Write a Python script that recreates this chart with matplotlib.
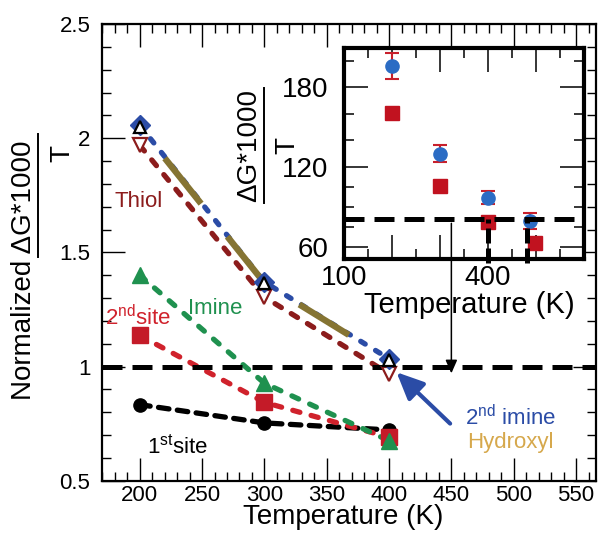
import matplotlib
matplotlib.use("Agg")
import matplotlib.pyplot as plt
from matplotlib.lines import Line2D
from matplotlib.ticker import MultipleLocator, FixedLocator

plt.rcParams['font.family'] = ['Liberation Sans', 'DejaVu Sans']
plt.rcParams['mathtext.fontset'] = 'custom'
plt.rcParams['mathtext.rm'] = 'Liberation Sans'
plt.rcParams['mathtext.it'] = 'Liberation Sans:italic'

# main panel: normalized dG*1000/T per site
temps = [200, 300, 400]
site1 = [0.833, 0.753, 0.722]
site2 = [1.136, 0.843, 0.690]
imine = [1.400, 0.927, 0.675]
imine2 = [2.057, 1.370, 1.034]
hydroxyl = [2.050, 1.366, 1.030]
thiol = [1.969, 1.304, 0.968]

main_xticks = [200, 250, 300, 350, 400, 450, 500, 550]
main_yticks = [0.5, 1, 1.5, 2, 2.5]
main_ylabels = ['0.5', '1', '1.5', '2', '2.5']
ref_level = 1.0
arrow_x = 450

# inset: raw dG*1000/T
inset_t_circ = [200, 300, 400, 488]
inset_circ = [196, 130, 97, 79]
inset_err = [10, 6.5, 5, 6]
inset_t_sq = [200, 300, 400, 497]
inset_sq = [161, 106, 78.5, 62.5]
inset_ref = 81
inset_marks = [400, 482]
inset_xticks = [100, 200, 300, 400, 500, 600]
inset_xlabels = ['100', '', '', '400', '', '']
inset_yticks = [60, 120, 180]
inset_yminor = [75, 90, 105, 140, 160, 200]

BLUE = '#2b4ca6'
OLIVE = '#857433'
GOLD = '#d6a84c'
DRED = '#8c1c1c'
RED = '#d0222c'
GREEN = '#1f914f'

fig = plt.figure(figsize=(6, 5.37), dpi=100)
ax = fig.add_axes([0.1705, 0.1049, 0.8228, 0.8504])

dash = dict(lw=3.8, dash_capstyle='round')
ax.plot(temps, site1, color='k', ls=(0, (2.0, 1.6)), **dash, zorder=2)
ax.plot(temps, site1, 'o', color='k', ms=9.5, zorder=3)
ax.plot(temps, site2, color=RED, ls=(0, (1.4, 2.2)), **dash, zorder=2)
ax.plot(temps, site2, 's', color='#c41b28', ms=11, zorder=3)
ax.plot(temps, imine, color=GREEN, ls=(0, (1.4, 2.3)), **dash, zorder=2)
ax.plot(temps, imine, '^', color=GREEN, ms=12, zorder=3)
ax.plot(temps, thiol, color=DRED, ls=(0, (1.4, 2.2)), **dash, zorder=2)
ax.plot(temps, imine2, color=BLUE, ls=(0, (1.0, 2.3)), **dash, zorder=2)
ax.plot(temps, hydroxyl, color=OLIVE, lw=4.6, ls=(9.4, (9.1, 6.6)), zorder=2.5)
ax.axhline(ref_level, color='k', lw=3.6, ls=(0, (4, 2)), zorder=2.7)
ax.plot(temps, thiol, 'v', mfc='white', mec=DRED, mew=1.6, ms=10, zorder=4)
ax.plot(temps, imine2, 'D', color=BLUE, ms=10, zorder=4)
ax.plot(temps, hydroxyl, '^', mfc='white', mec='k', mew=1.6, ms=8.5, zorder=5)

ax.set_xlim(170, 566)
ax.set_ylim(0.5, 2.5)
ax.set_xticks(main_xticks)
ax.set_yticks(main_yticks)
ax.set_yticklabels(main_ylabels)
ax.xaxis.set_minor_locator(MultipleLocator(10))
ax.yaxis.set_minor_locator(MultipleLocator(0.1))
ax.tick_params(which='both', direction='in', top=True, right=True, width=1.0)
ax.tick_params(which='major', length=16.5, labelsize=16)
ax.tick_params(which='minor', length=6.5)
ax.tick_params(axis='y', which='major', pad=8.6)
ax.tick_params(axis='x', which='major', pad=3)
for s in ax.spines.values():
    s.set_linewidth(1.6)

txt = dict(fontsize=16, va='baseline', ha='left')
ax.text(180, 1.697, 'Thiol', color=DRED, **txt)
ax.text(238.6, 1.228, 'Imine', color=GREEN, **txt)
ax.text(172, 1.18, '2$^{\\rm nd}$site', color=RED, **txt)
ax.text(206, 0.62, '1$^{\\rm st}$site', color='k', **txt)
ax.text(461, 0.744, '2$^{\\rm nd}$ imine', color=BLUE, **txt)
ax.text(462.6, 0.642, 'Hydroxyl', color=GOLD, **txt)
ax.annotate('', xy=(406, 0.975), xytext=(449, 0.75),
            arrowprops=dict(arrowstyle='-|>,head_length=0.55,head_width=0.25',
                            color=BLUE, lw=3, mutation_scale=30,
                            shrinkA=0, shrinkB=0), zorder=6)

# axis labels
fig.text(24 / 600, 1 - 270 / 537, 'Normalized \u0394G*1000', rotation=90,
         ha='center', va='center', fontsize=20)
fig.add_artist(Line2D([38 / 600] * 2, [1 - 134 / 537, 1 - 257 / 537],
                      color='k', lw=1.4))
fig.text(62 / 600, 1 - 154 / 537, 'T', rotation=90, ha='center',
         va='center', fontsize=20)
fig.text(343 / 600, 1 - 524 / 537, 'Temperature (K)', ha='center',
         va='baseline', fontsize=20)

# inset
ins = fig.add_axes([0.5733, 0.5177, 0.4, 0.3929])
ins.errorbar(inset_t_circ, inset_circ, yerr=inset_err, fmt='o',
             color='#2b6cc4', ecolor='#c8202c', elinewidth=1.5, capsize=5,
             capthick=1.5, ms=9.5, zorder=3)
ins.plot(inset_t_sq, inset_sq, 's', color='#c1121f', ms=9.5, zorder=3)
ins.set_xlim(100, 600)
ins.set_ylim(50.7, 209.6)
ins.axhline(inset_ref, color='k', lw=3.6, ls=(0, (4, 2)), zorder=4,
            clip_on=False)
lo, hi = ins.get_ylim()
for xm in inset_marks:
    ins.axvline(xm, ymin=-0.02, ymax=(inset_ref - lo) / (hi - lo),
                color='k', lw=3.6, ls=(0, (3, 1)), zorder=4, clip_on=False)
ins.set_xticks(inset_xticks)
ins.set_xticklabels(inset_xlabels)
ins.set_yticks(inset_yticks)
ins.yaxis.set_minor_locator(FixedLocator(inset_yminor))
ins.xaxis.set_minor_locator(MultipleLocator(50))
ins.tick_params(which='both', direction='in', top=True, right=True, width=1.1)
ins.tick_params(which='major', length=17, labelsize=20)
ins.tick_params(which='minor', length=7)
ins.tick_params(axis='y', which='major', pad=11.5)
ins.tick_params(axis='x', which='major', pad=4)
for s in ins.spines.values():
    s.set_linewidth(3)

fig.text(249 / 600, 1 - 146 / 537, '\u0394G*1000', rotation=90,
         ha='center', va='center', fontsize=20)
fig.add_artist(Line2D([264 / 600] * 2, [1 - 88 / 537, 1 - 203 / 537],
                      color='k', lw=1.4))
fig.text(287.5 / 600, 1 - 145 / 537, 'T', rotation=90, ha='center',
         va='center', fontsize=20)
fig.text(469 / 600, 1 - 313 / 537, 'Temperature (K)', ha='center',
         va='baseline', fontsize=21)

# thin arrow from inset threshold down to the normalized level
ins.annotate('', xy=(arrow_x, ref_level - 0.03), xycoords=ax.transData,
             xytext=(arrow_x, 1.627), textcoords=ax.transData,
             arrowprops=dict(arrowstyle='-|>,head_length=0.5,head_width=0.22',
                             color='k', lw=1.1, mutation_scale=16,
                             shrinkA=0, shrinkB=0),
             annotation_clip=False)

fig.savefig('out.png', dpi=100)
